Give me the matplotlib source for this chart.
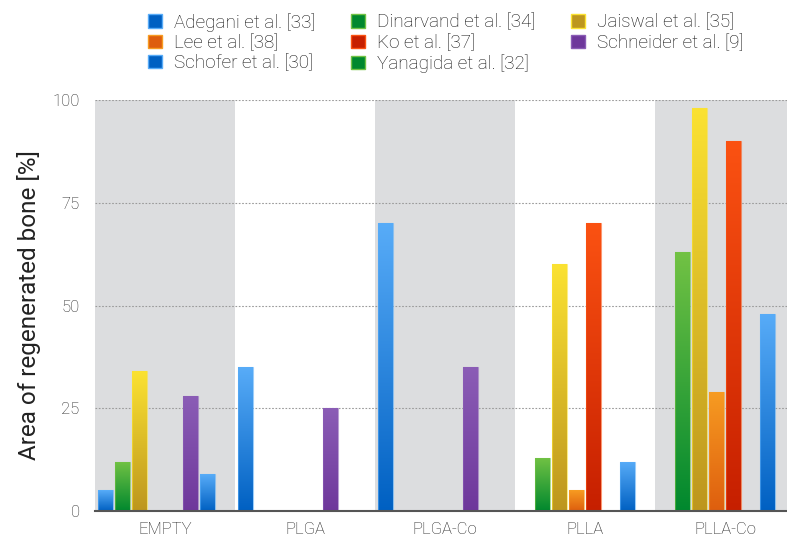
import numpy as np
import matplotlib
matplotlib.use("Agg")
import matplotlib.pyplot as plt
from matplotlib.colors import LinearSegmentedColormap
from matplotlib.patches import Patch

plt.rcParams['font.family'] = ['Roboto', 'DejaVu Sans']
plt.rcParams['font.weight'] = 'light'

# scaffold groups and studies
groups = ['EMPTY', 'PLGA', 'PLGA-Co', 'PLLA', 'PLLA-Co']
studies = ['Adegani et al. [33]', 'Dinarvand et al. [34]', 'Jaiswal et al. [35]',
           'Lee et al. [38]', 'Ko et al. [37]', 'Schneider et al. [9]',
           'Schofer et al. [30]', 'Yanagida et al. [32]']

# area of regenerated bone per study, NaN = not reported
adegani   = [5, 35, 70, np.nan, np.nan]
dinarvand = [12, np.nan, np.nan, 13, 63]
jaiswal   = [34, np.nan, np.nan, 60, 98]
lee       = [np.nan, np.nan, np.nan, 5, 29]
ko        = [np.nan, np.nan, np.nan, 70, 90]
schneider = [28, 25, 35, np.nan, np.nan]
schofer   = [9, np.nan, np.nan, 12, 48]
yanagida  = [np.nan, np.nan, np.nan, np.nan, np.nan]
values = [adegani, dinarvand, jaiswal, lee, ko, schneider, schofer, yanagida]

# (top, bottom) gradient colours
blue = ('#58acf8', '#0060c2')
green = ('#72c244', '#00882e')
yellow = ('#fbe232', '#bd961e')
orange = ('#f79c22', '#de5e0e')
red = ('#fb5212', '#c61f00')
purple = ('#8b5db6', '#6e379b')
colors = [blue, green, yellow, orange, red, purple, blue, green]

fig = plt.figure(figsize=(7.87, 5.36), dpi=100)
ax = fig.add_axes([95 / 787, 25 / 536, 700 / 787, 411 / 536])

x = np.arange(len(groups))
pitch = 17 / 140
width = 15 / 140

for i in range(0, len(groups), 2):
    ax.axvspan(i - 0.5, i + 0.5, color='#dcdddf', lw=0, zorder=0)

grad = np.linspace(0, 1, 256).reshape(-1, 1)
for k, (name, vals, col) in enumerate(zip(studies, values, colors)):
    bars = ax.bar(x + (k - 3.5) * pitch, np.nan_to_num(vals), width,
                  color='none', edgecolor='none', zorder=3)
    cmap = LinearSegmentedColormap.from_list(name, [col[1], col[0]])
    for b, v in zip(bars, vals):
        if np.isnan(v):
            continue
        x0, w, h = b.get_x(), b.get_width(), b.get_height()
        im = ax.imshow(grad, cmap=cmap, origin='lower', aspect='auto',
                       extent=(x0, x0 + w, 0, h), zorder=3)
        im.set_clip_path(b)
        ax.bar(x0 + w / 2, h, w, color='none', edgecolor=col[0], lw=0.8,
               alpha=0.6, zorder=4)

ax.set_xlim(-0.5, 4.5)
ax.set_ylim(0, 100)
ax.set_yticks([0, 25, 50, 75, 100])
ax.set_xticks(x)
ax.set_xticklabels(groups)
ax.yaxis.grid(True, linestyle=(0, (1.5, 1.5)), color='#9a9a9a', lw=0.8, zorder=1)
ax.set_axisbelow(True)
for s in ['top', 'right', 'left']:
    ax.spines[s].set_visible(False)
ax.spines['bottom'].set_color('#555555')
ax.spines['bottom'].set_linewidth(1.5)
ax.spines['bottom'].set_zorder(5)
ax.tick_params(axis='both', length=0, labelsize=12, labelcolor='#222222')
ax.tick_params(axis='y', pad=11)
ax.tick_params(axis='x', pad=8)
ax.set_ylabel('Area of regenerated bone [%]', fontsize=17.5, color='#222222', labelpad=8)

# legend filled row-wise across three columns
handles = [Patch(facecolor=c[1], edgecolor=c[0], label=n) for n, c in zip(studies, colors)]
order = [0, 3, 6, 1, 4, 7, 2, 5]
fig.legend([handles[i] for i in order], [studies[i] for i in order],
           ncol=3, loc='upper left', bbox_to_anchor=(131 / 787, 1 + 4 / 536),
           frameon=False, fontsize=13.6, handlelength=0.72, handleheight=0.72,
           handletextpad=0.65, columnspacing=1.9, labelspacing=0.12,
           labelcolor='#111111')

fig.savefig('out.png', dpi=100)
